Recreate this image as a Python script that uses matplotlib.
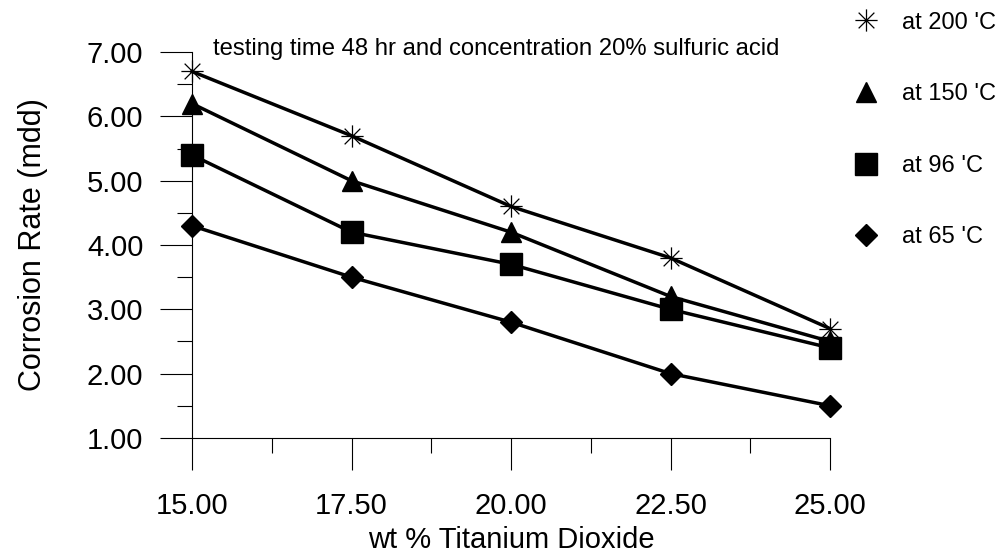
import numpy as np
import matplotlib.pyplot as plt
from matplotlib.path import Path

plt.rcParams['font.family'] = ['Liberation Sans', 'DejaVu Sans']

wt_tio2 = [15.0, 17.5, 20.0, 22.5, 25.0]
rate_200 = [6.7, 5.7, 4.6, 3.8, 2.7]
rate_150 = [6.2, 5.0, 4.2, 3.2, 2.5]
rate_96 = [5.4, 4.2, 3.7, 3.0, 2.4]
rate_65 = [4.3, 3.5, 2.8, 2.0, 1.5]
labels = ["at 200 'C", "at 150 'C", "at 96 'C", "at 65 'C"]

# eight-spoke asterisk marker
d = 0.7071
star = Path([(-1, 0), (1, 0), (0, -1), (0, 1), (-d, -d), (d, d), (-d, d), (d, -d)],
            [Path.MOVETO, Path.LINETO] * 4)

fig = plt.figure(figsize=(10, 5.55), dpi=100)
ax = fig.add_axes([0.192, 0.211, 0.638, 0.695])

styles = [
    dict(marker=star, markersize=16, markeredgewidth=0.9, fillstyle='none'),
    dict(marker='^', markersize=14),
    dict(marker='s', markersize=16),
    dict(marker='D', markersize=11),
]
series = [rate_200, rate_150, rate_96, rate_65]

handles = []
for ys, st, lab in zip(series, styles, labels):
    ax.plot(wt_tio2, ys, color='black', lw=2.5, markeredgecolor='black',
            markerfacecolor='black', clip_on=False, zorder=3, **st)
    h, = ax.plot([], [], linestyle='none', color='black', markeredgecolor='black',
                 markerfacecolor='black', label=lab, **st)
    handles.append(h)

ax.set_xlim(15, 25)
ax.set_ylim(1, 7)
ax.set_xticks(wt_tio2)
ax.set_xticklabels([f"{v:.2f}" for v in wt_tio2])
ax.set_xticks(np.arange(16.25, 25, 2.5), minor=True)
ax.set_yticks(np.arange(1, 7.01, 1))
ax.set_yticklabels([f"{v:.2f}" for v in np.arange(1, 7.01, 1)])
ax.set_yticks(np.arange(1.5, 7, 1), minor=True)

for s in ['top', 'right']:
    ax.spines[s].set_visible(False)
ax.spines['left'].set_linewidth(0.8)
ax.spines['bottom'].set_linewidth(0.8)

ax.tick_params(axis='both', which='major', direction='out', length=23, width=0.8, labelsize=21)
ax.tick_params(axis='both', which='minor', direction='out', length=11, width=0.8)
ax.tick_params(axis='x', which='major', pad=16)
ax.tick_params(axis='y', which='major', pad=12)

ax.set_xlabel("wt % Titanium Dioxide", fontsize=21, labelpad=4)
ax.set_ylabel("Corrosion Rate (mdd)", fontsize=22, labelpad=28)

ax.text(15.33, 7.05, "testing time 48 hr and concentration 20% sulfuric acid",
        fontsize=17.2, ha='left', va='center')

fig.legend(handles=handles, loc='upper left', bbox_to_anchor=(0.845, 0.996),
           frameon=False, fontsize=17, numpoints=1, handlelength=1.0,
           handletextpad=1.0, labelspacing=2.1, borderaxespad=0)

fig.savefig("out.png", dpi=100)
